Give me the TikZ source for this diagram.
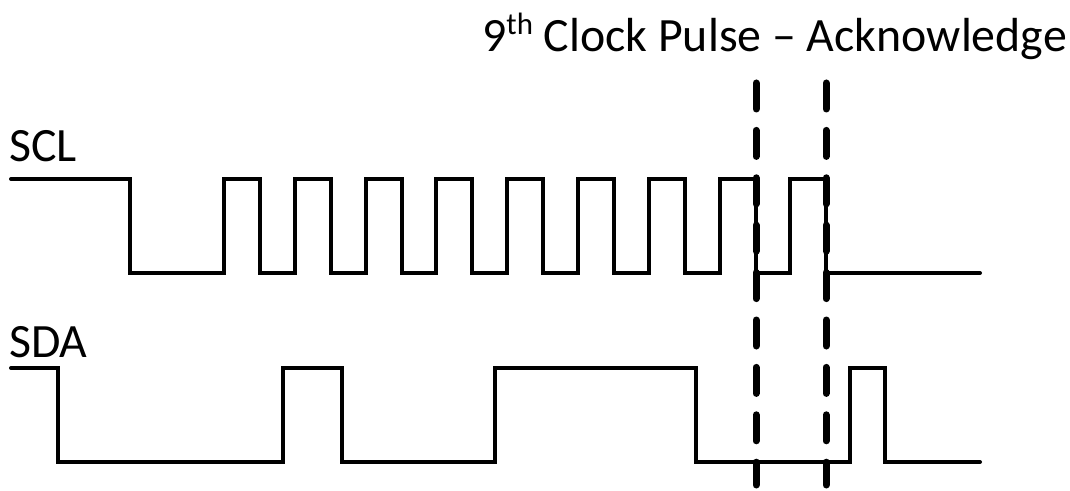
\documentclass[tikz,border=0pt]{standalone}
\usepackage{fontspec}
\setmainfont{Carlito}
\begin{document}
\begin{tikzpicture}[x=1bp,y=-1bp,
  sig/.style={line width=4bp, line cap=round, line join=miter},
  marker/.style={line width=7bp, line cap=round, dash pattern=on 26bp off 21.4bp},
  lbl/.style={inner sep=0pt, anchor=base west, font=\fontsize{48}{52}\selectfont}]
\useasboundingbox (0,0) rectangle (1070,491);
% labels
\node[lbl] (title) at (482,52) {9\raisebox{17bp}{\fontsize{31}{31}\selectfont th} Clock Pulse – Acknowledge};
\node[lbl] (scl) at (9,162) {SCL};
\node[lbl] (sda) at (9,358) {SDA};
% SCL waveform
\draw[sig] (11,179) -- (130,179) -- (130,273)
  \foreach \k in {0,...,8} {
    -- ({224+70.8*\k},273) -- ({224+70.8*\k},179) -- ({260+70.8*\k},179) -- ({260+70.8*\k},273)
  } -- (980,273);
% SDA waveform
\draw[sig] (11,368) -- (58,368) -- (58,462) -- (283,462) -- (283,368) -- (342,368) -- (342,462)
  -- (495,462) -- (495,368) -- (696,368) -- (696,462) -- (850,462) -- (850,368) -- (885,368)
  -- (885,462) -- (980,462);
% acknowledge markers
\coordinate (m1t) at (756,83);
\coordinate (m1b) at (756,485);
\coordinate (m2t) at (826,83);
\coordinate (m2b) at (826,485);
\draw[marker] (m1t) -- (m1b);
\draw[marker] (m2t) -- (m2b);
\end{tikzpicture}
\end{document}
